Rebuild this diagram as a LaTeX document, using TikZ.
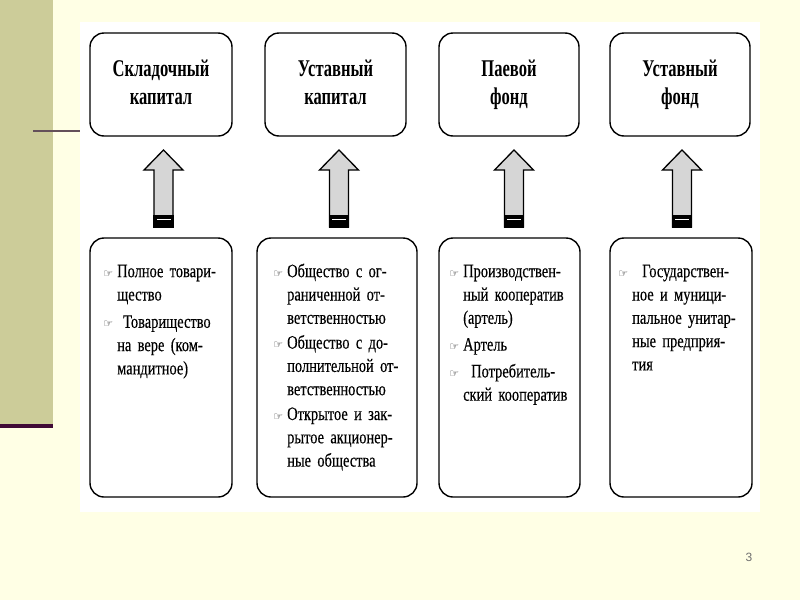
\documentclass[tikz,border=0pt]{standalone}
\usepackage{fontspec}
\setmainfont{Liberation Serif}
\newfontfamily\headfont[FakeStretch=0.69]{Liberation Serif}
\newfontfamily\bodyfont[FakeStretch=0.76,FakeBold=0.3]{Liberation Serif}
\newfontfamily\handfont{DejaVu Sans}
\newfontfamily\numfont{Liberation Sans}
\usetikzlibrary{calc}
\definecolor{slidebg}{RGB}{255,255,229}
\definecolor{barcol}{RGB}{204,204,153}
\definecolor{plum}{RGB}{64,10,54}
\definecolor{rulecol}{RGB}{100,80,90}
\definecolor{arrowfill}{RGB}{214,214,214}
\definecolor{pagenum}{RGB}{110,110,110}
\newcommand\hand{\leavevmode\rule{0pt}{15pt}\llap{{\handfont\fontsize{11}{11}\selectfont\color{black!85}☞}\hspace{4pt}}}
\newcommand\jline[1]{\makebox[\linewidth][s]{#1}}
\newcommand\pgap{3pt}
\newcommand\pskip{\par\vspace{\pgap}}
\newcommand\topstrut{\rule{0pt}{18pt}}
\newcommand\botstrut{\rule[-6pt]{0pt}{6pt}}
\newcommand\fatarrow[1]{%
  \filldraw[fill=arrowfill, draw=black, line width=1.3pt, line join=miter]
    (#1-9.5,227) -- (#1-9.5,170) -- (#1-19.5,170) -- (#1,150) -- (#1+19.5,170) -- (#1+9.5,170) -- (#1+9.5,227) -- cycle;
  \fill[black] (#1-10.1,215) rectangle (#1+10.1,227.6);
  \fill[white] (#1-7,218.5) rectangle (#1+7,220);
}
\begin{document}
\begin{tikzpicture}[x=1pt,y=-1pt,
  box/.style={draw=black, line width=1.4pt, rounded corners=14pt, inner sep=0pt},
  head/.style={font=\headfont\bfseries\fontsize{24}{28}\selectfont, align=center},
  body/.style={font=\bodyfont\fontsize{19}{23.3}\selectfont, align=left, anchor=north west, inner sep=0pt},
  ]
\useasboundingbox (0,0) rectangle (800,600);
\fill[slidebg] (0,0) rectangle (800,600);
\fill[barcol] (0,0) rectangle (53,425);
\fill[plum] (0,424) rectangle (53,428);
\fill[white] (80,22) rectangle (760,512);
\draw[rulecol, line width=2pt] (33,131) -- (80,131);

% top boxes
\node[box, head, minimum width=142pt, minimum height=103pt] (t1) at (161,84.5) {\topstrut Складочный\\капитал\botstrut};
\node[box, head, minimum width=141pt, minimum height=103pt] (t2) at (335.5,84.5) {\topstrut Уставный\\капитал\botstrut};
\node[box, head, minimum width=140pt, minimum height=103pt] (t3) at (509,84.5) {\topstrut Паевой\\фонд\botstrut};
\node[box, head, minimum width=140pt, minimum height=103pt] (t4) at (680,84.5) {\topstrut Уставный\\фонд\botstrut};

% bottom boxes
\node[box, minimum width=142pt, minimum height=259pt] (b1) at (161,367.5) {};
\node[box, minimum width=160pt, minimum height=259pt] (b2) at (337,367.5) {};
\node[box, minimum width=141pt, minimum height=259pt] (b3) at (509.5,367.5) {};
\node[box, minimum width=142pt, minimum height=259pt] (b4) at (681,367.5) {};

% arrows
\fatarrow{163.5}
\fatarrow{339}
\fatarrow{514}
\fatarrow{682}

% texts
\node[body, text width=101pt] (b1text) at (117,262) {\renewcommand\pgap{4pt}%
\hand\jline{Полное товари-}\\
щество\pskip
\hand\hspace{6pt}Товарищество\\
\jline{на вере (ком-}\\
мандитное)};

\node[body, text width=98pt] (b2text) at (287,262) {\renewcommand\pgap{1.5pt}%
\hand\jline{Общество с ог-}\\
\jline{раниченной от-}\\
ветственностью\pskip
\hand\jline{Общество с до-}\\
\jline{полнительной от-}\\
ветственностью\pskip
\hand\jline{Открытое и зак-}\\
\jline{рытое акционер-}\\
ные общества};

\node[body, text width=105pt] (b3text) at (463,262) {\renewcommand\pgap{3.5pt}%
\hand Производствен-\\
\jline{ный кооператив}\\
(артель)\pskip
\hand Артель\pskip
\hand\hspace{8pt}Потребитель-\\
ский кооператив};

\node[body, text width=106pt] (b4text) at (632,262) {%
\hand\hspace{10pt}Государствен-\\
\jline{ное и муници-}\\
\jline{пальное унитар-}\\
\jline{ные предприя-}\\
тия};

\node[font=\numfont\fontsize{12}{12}\selectfont, text=pagenum] (pg) at (749,557) {3};
\end{tikzpicture}
\end{document}
